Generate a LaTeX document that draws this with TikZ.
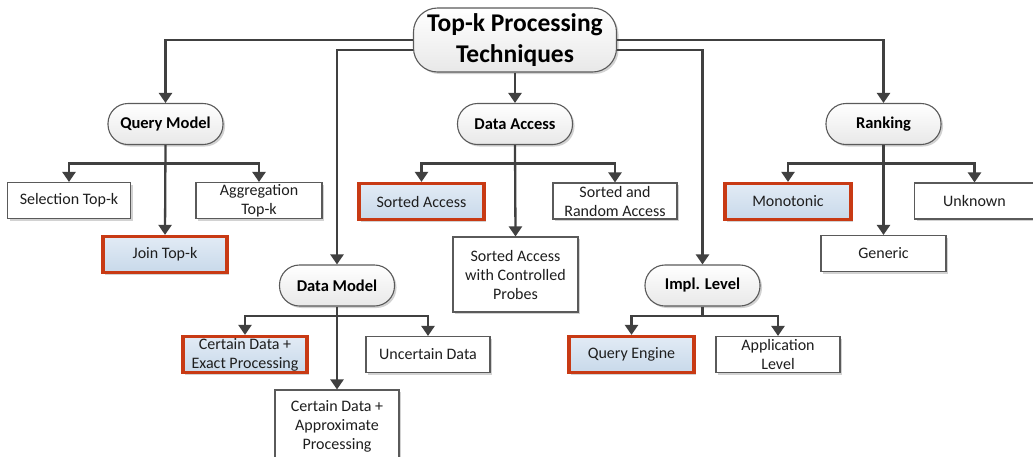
\documentclass[tikz,border=0pt]{standalone}
\usepackage{fontspec}
\setmainfont{Carlito}
\usetikzlibrary{arrows.meta,shadows,calc}
\definecolor{edgegray}{HTML}{404040}
\definecolor{boxgray}{HTML}{5A5A5A}
\definecolor{hlred}{HTML}{C83A14}
\definecolor{hltop}{HTML}{E2EBF5}
\definecolor{hlbot}{HTML}{C8D9EA}
\definecolor{txt}{HTML}{1E1E1E}
\tikzset{
  shad/.style={drop shadow={shadow xshift=2pt,shadow yshift=-2pt,fill=black!35,opacity=.5}},
  rootbox/.style={draw=boxgray,line width=1.1pt,rounded corners=24pt,top color=white,bottom color=black!9,
    minimum width=203pt,minimum height=64pt,align=center,text=black,
    font=\fontsize{25.5}{31}\selectfont\bfseries,shad},
  catbox/.style={draw=boxgray,line width=1.1pt,rounded corners=20pt,top color=white,bottom color=black!9,
    minimum width=115pt,minimum height=41pt,text=black,font=\fontsize{16.5}{19}\selectfont\bfseries,shad},
  leafbox/.style={draw=boxgray,line width=1.1pt,fill=white,minimum height=36pt,align=center,inner sep=1pt,
    text=txt,font=\fontsize{16}{19}\selectfont,shad},
  hlbox/.style={draw=hlred,line width=3.2pt,top color=hltop,bottom color=hlbot,minimum height=36pt,align=center,
    inner sep=1pt,text=txt,font=\fontsize{16}{19}\selectfont,shad},
  arr/.style={draw=edgegray,line width=2.3pt,-{Triangle[width=13pt,length=10pt]}},
  ln/.style={draw=edgegray,line width=2.3pt}
}
\begin{document}
\begin{tikzpicture}[x=1pt,y=-1pt]
\useasboundingbox[fill=white] (0,0) rectangle (1033,456);
% root
\node[rootbox] (root) at (515,40) {Top-k Processing\\Techniques};
% categories
\node[catbox] (qm) at (165.5,124) {Query Model};
\node[catbox] (da) at (515,124) {Data Access};
\node[catbox] (rk) at (883.5,124) {Ranking};
\node[catbox] (dm) at (337,285.5) {Data Model};
\node[catbox] (il) at (702.5,285.5) {Impl. Level};
% query model leaves
\node[leafbox,minimum width=123pt] (sel) at (69,200.5) {Selection Top-k};
\node[leafbox,minimum width=126pt] (agg) at (259,200.5) {Aggregation\\Top-k};
\node[hlbox,minimum width=124pt] (join) at (165,254.5) {Join Top-k};
% data access leaves
\node[hlbox,minimum width=125pt] (sa) at (421.5,201.5) {Sorted Access};
\node[leafbox,minimum width=124pt] (sra) at (615,201) {Sorted and\\Random Access};
\node[leafbox,minimum width=125pt,minimum height=75pt] (sac) at (515.5,274.5) {Sorted Access\\with Controlled\\Probes};
% ranking leaves
\node[hlbox,minimum width=126pt] (mono) at (788,201.5) {Monotonic};
\node[leafbox,minimum width=120pt] (unk) at (974.5,201) {Unknown};
\node[leafbox,minimum width=125pt] (gen) at (883.5,253.5) {Generic};
% data model leaves
\node[hlbox,minimum width=124pt] (cde) at (245,354.5) {Certain Data +\\Exact Processing};
\node[leafbox,minimum width=124pt] (unc) at (428,354.5) {Uncertain Data};
\node[leafbox,minimum width=124pt,minimum height=70pt,text depth=0pt] (cda) at (337,425) {Certain Data +\\Approximate\\Processing};
% impl level leaves
\node[hlbox,minimum width=125pt] (qe) at (631.5,354.5) {Query Engine};
\node[leafbox,minimum width=124pt] (app) at (778,354.5) {Application\\Level};
% root connectors
\draw[arr] (root.west) -| (qm.north);
\draw[arr] ($(root.west)+(0,10)$) -| (dm.north);
\draw[arr] (root.east) -| (rk.north);
\draw[arr] ($(root.east)+(0,10)$) -| (il.north);
\draw[arr] (root.south) -- (da.north);
% query model
\path (qm.south) ++(0,18.5) coordinate (qmb);
\draw[arr] (qm.south) -- (join.north);
\draw[arr] (qmb) -| (sel.north);
\draw[arr] (qmb) -| (agg.north);
% data access
\path (da.south) ++(0,18.5) coordinate (dab);
\draw[arr] (da.south) -- (sac.north);
\draw[arr] (dab) -| (sa.north);
\draw[arr] (dab) -| (sra.north);
% ranking
\path (rk.south) ++(0,18.5) coordinate (rkb);
\draw[arr] (rk.south) -- (gen.north);
\draw[arr] (rkb) -| (mono.north);
\draw[arr] (rkb) -| (unk.north);
% data model
\path (dm.south) ++(0,9.5) coordinate (dmb);
\draw[arr] (dm.south) -- (cda.north);
\draw[arr] (dmb) -| (cde.north);
\draw[arr] (dmb) -| (unc.north);
% impl level
\path (il.south) ++(0,9.5) coordinate (ilb);
\draw[ln] (il.south) -- (ilb);
\draw[arr] (ilb) -| (qe.north);
\draw[arr] (ilb) -| (app.north);
\end{tikzpicture}
\end{document}
